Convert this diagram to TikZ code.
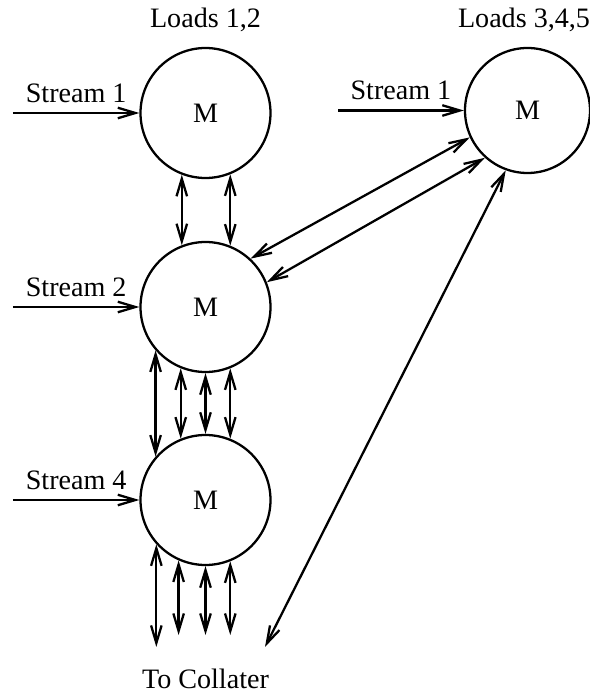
\documentclass[tikz,border=0pt]{standalone}
\usepackage{fontspec}
\setmainfont{Liberation Serif}
\usetikzlibrary{arrows.meta,positioning}

\begin{document}
\begin{tikzpicture}[every node/.style={font=\fontsize{16}{19}\selectfont},
  mod/.style={draw, circle, line width=1.3pt, minimum size=2.6cm, inner sep=0pt},
  flow/.style={-{Straight Barb[length=10pt,width=6pt]}, line width=1.3pt},
  link/.style={{Straight Barb[length=10pt,width=6pt]}-{Straight Barb[length=10pt,width=6pt]}, line width=1.3pt}]
  \useasboundingbox (0,0) rectangle (11.8,13.96);
  \node[mod] (m1) at (4.11,11.70) {M};
  \node[mod] (m2) at (4.11,7.82) {M};
  \node[mod] (m3) at (4.11,3.96) {M};
  \node[mod, minimum size=2.5cm] (m4) at (10.55,11.75) {M};
  \node (ld12) at (4.11,13.56) {Loads 1,2};
  \node (ld345) at (10.48,13.56) {Loads 3,4,5};
  \node (coll) at (4.11,0.38) {To Collater};
  % Inputs
  \coordinate (in1) at (0.26,11.70);
  \coordinate (in2) at (0.26,7.82);
  \coordinate (in4) at (0.26,3.96);
  \coordinate (in1b) at (6.76,11.75);
  \draw[flow] (in1) -- node[above=2pt] {Stream 1} (m1.west);
  \draw[flow] (in2) -- node[above=2pt] {Stream 2} (m2.west);
  \draw[flow] (in4) -- node[above=2pt] {Stream 4} (m3.west);
  \draw[flow] (in1b) -- node[above=2pt] {Stream 1} (m4.west);
  % Links between modules
  \draw[link] (m1.-111) -- (m2.111);
  \draw[link] (m1.-68) -- (m2.68);
  \foreach \a in {139,112,90,68}
    \draw[link] (m2.-\a) -- (m3.\a);
  \draw[link] (m2.47) -- (m4.205);
  \draw[link] (m2.22) -- (m4.228);
  % To collater
  \coordinate (outlo) at (0,1.02);
  \coordinate (outhi) at (0,1.26);
  \coordinate (tocol) at (5.30,1.02);
  \foreach \a/\e in {-138/lo,-114/hi,-90/hi,-68/hi}
    \draw[link] (m3.\a) -- (m3.\a |- out\e);
  \draw[link] (m4.250) -- (tocol);
\end{tikzpicture}
\end{document}
